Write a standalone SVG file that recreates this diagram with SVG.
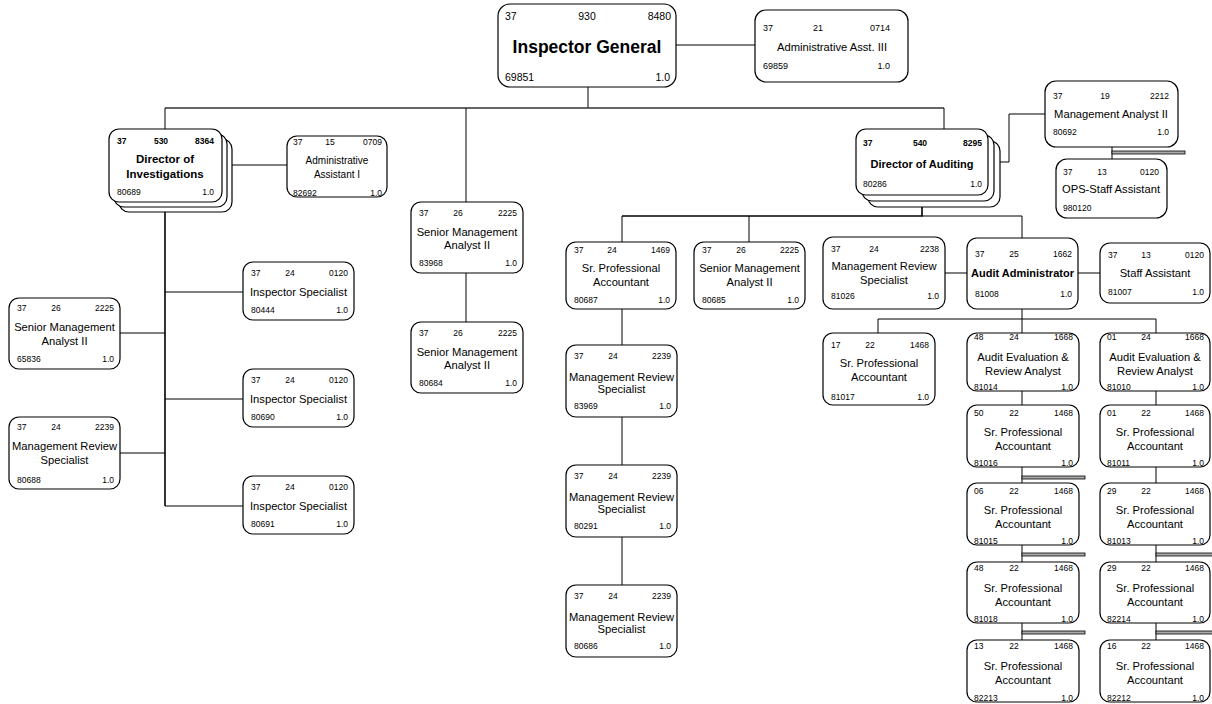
<svg xmlns="http://www.w3.org/2000/svg" width="1212" height="704" viewBox="0 0 1212 704">
<style>
text{font-family:"Liberation Sans",Arial,sans-serif;fill:#000}
.b{fill:#fff;stroke:#000;stroke-width:1.2}
.n{font-size:8.5px}
.nm{font-size:8.5px;text-anchor:middle}
.nr{font-size:8.5px;text-anchor:end}
.t{font-size:11.2px;text-anchor:middle}
.bd{font-weight:bold}
.c{stroke:#000;stroke-width:1;fill:none}
.bar{fill:#aaa;stroke:#000;stroke-width:0.8}
</style>
<g id="connectors">
<path class="c" d="M676 45H755"/>
<path class="c" d="M588 87V108"/>
<path class="c" style="stroke:#333;stroke-width:1.6" d="M165 108H944"/>
<path class="c" d="M165 108V129M466 108V202M944 108V129"/>
<path class="c" d="M232 165H287"/>
<path class="c" style="stroke-width:1.6" d="M165 212V506"/>
<path class="c" d="M165 292H243M165 399H243M165 506H243M120 333H165M120 453H165"/>
<path class="c" d="M466 273V322"/>
<path class="c" d="M1000 162H1009V114H1045"/>
<path class="c" d="M1112 147V159"/>
<rect class="bar" x="1112" y="151" width="73" height="3"/>
<path class="c" style="stroke-width:1.6" d="M922 207V216H622"/>
<path class="c" d="M922 216H1022"/>
<path class="c" d="M622 216V242M749 216V242M1022 216V238"/>
<path class="c" d="M622 309V345M622 417V465M622 537V585"/>
<path class="c" d="M945 273H967M1078 273H1100"/>
<path class="c" d="M1022 309V333M878 319H1156M878 319V333M1156 319V333"/>
<path class="c" d="M1022 391V405M1022 467V483M1022 545V562M1022 623V640"/>
<path class="c" d="M1156 391V405M1156 467V483M1156 545V562M1156 623V640"/>
<rect class="bar" x="1022" y="476" width="63" height="3"/>
<rect class="bar" x="1022" y="553" width="63" height="3"/>
<rect class="bar" x="1022" y="631" width="63" height="3"/>
<rect class="bar" x="1156" y="553" width="57" height="3"/>
<rect class="bar" x="1156" y="631" width="57" height="3"/>
</g>
<g id="ig">
<rect class="b" x="498" y="4" width="178" height="83" rx="12"/>
<text x="505" y="20" style="font-size:10.5px">37</text>
<text x="587" y="20" style="font-size:10.5px;text-anchor:middle">930</text>
<text x="671" y="20" style="font-size:10.5px;text-anchor:end">8480</text>
<text x="587" y="53" class="bd" style="font-size:17.5px;text-anchor:middle">Inspector General</text>
<text x="505" y="81" style="font-size:10.5px">69851</text>
<text x="670" y="81" style="font-size:10.5px;text-anchor:end">1.0</text>
</g>
<g id="aa3">
<rect class="b" x="755" y="10" width="153" height="72" rx="11"/>
<text x="763" y="31" style="font-size:9px">37</text>
<text x="818" y="31" style="font-size:9px;text-anchor:middle">21</text>
<text x="890" y="31" style="font-size:9px;text-anchor:end">0714</text>
<text x="832" y="51" class="t">Administrative Asst. III</text>
<text x="763" y="69" style="font-size:9px">69859</text>
<text x="890" y="69" style="font-size:9px;text-anchor:end">1.0</text>
</g>
<g id="doi">
<rect class="b" x="119" y="139" width="113" height="73" rx="10"/>
<rect class="b" x="114" y="134" width="113" height="73" rx="10"/>
<rect class="b" x="109" y="129" width="113" height="73" rx="10"/>
<text x="117" y="144" class="n bd">37</text>
<text x="161" y="144" class="nm bd">530</text>
<text x="214" y="144" class="nr bd">8364</text>
<text x="165" y="163" class="t bd" style="font-size:11.5px">Director of</text>
<text x="165" y="178" class="t bd" style="font-size:11.5px">Investigations</text>
<text x="117" y="195" class="n">80689</text>
<text x="214" y="195" class="nr">1.0</text>
</g>
<g id="aa1">
<rect class="b" x="287" y="136" width="100" height="61" rx="10"/>
<text x="293" y="145" class="n">37</text>
<text x="330" y="145" class="nm">15</text>
<text x="382" y="145" class="nr">0709</text>
<text x="337" y="164" class="t" style="font-size:10px">Administrative</text>
<text x="337" y="178" class="t" style="font-size:10px">Assistant I</text>
<text x="293" y="196" class="n">82692</text>
<text x="382" y="196" class="nr">1.0</text>
</g>
<g id="sma83968">
<rect class="b" x="411" y="202" width="112" height="71" rx="10"/>
<text x="419" y="216" class="n">37</text><text x="458" y="216" class="nm">26</text><text x="517" y="216" class="nr">2225</text>
<text x="467" y="236" class="t">Senior Management</text><text x="467" y="249" class="t">Analyst II</text>
<text x="419" y="266" class="n">83968</text><text x="517" y="266" class="nr">1.0</text>
</g>
<g id="sma80684">
<rect class="b" x="411" y="322" width="112" height="71" rx="10"/>
<text x="419" y="336" class="n">37</text><text x="458" y="336" class="nm">26</text><text x="517" y="336" class="nr">2225</text>
<text x="467" y="356" class="t">Senior Management</text><text x="467" y="369" class="t">Analyst II</text>
<text x="419" y="386" class="n">80684</text><text x="517" y="386" class="nr">1.0</text>
</g>
<g id="is80444">
<rect class="b" x="243" y="262" width="111" height="58" rx="10"/>
<text x="251" y="276" class="n">37</text><text x="290" y="276" class="nm">24</text><text x="348" y="276" class="nr">0120</text>
<text x="298.5" y="296" class="t">Inspector Specialist</text>
<text x="251" y="313" class="n">80444</text><text x="348" y="313" class="nr">1.0</text>
</g>
<g id="is80690">
<rect class="b" x="243" y="369" width="111" height="58" rx="10"/>
<text x="251" y="383" class="n">37</text><text x="290" y="383" class="nm">24</text><text x="348" y="383" class="nr">0120</text>
<text x="298.5" y="403" class="t">Inspector Specialist</text>
<text x="251" y="420" class="n">80690</text><text x="348" y="420" class="nr">1.0</text>
</g>
<g id="is80691">
<rect class="b" x="243" y="476" width="111" height="58" rx="10"/>
<text x="251" y="490" class="n">37</text><text x="290" y="490" class="nm">24</text><text x="348" y="490" class="nr">0120</text>
<text x="298.5" y="510" class="t">Inspector Specialist</text>
<text x="251" y="527" class="n">80691</text><text x="348" y="527" class="nr">1.0</text>
</g>
<g id="sma65836">
<rect class="b" x="9" y="298" width="111" height="71" rx="10"/>
<text x="17" y="311" class="n">37</text><text x="56" y="311" class="nm">26</text><text x="114" y="311" class="nr">2225</text>
<text x="64.5" y="331" class="t">Senior Management</text><text x="64.5" y="345" class="t">Analyst II</text>
<text x="17" y="362" class="n">65836</text><text x="114" y="362" class="nr">1.0</text>
</g>
<g id="mrs80688">
<rect class="b" x="9" y="417" width="111" height="72" rx="10"/>
<text x="17" y="430" class="n">37</text><text x="56" y="430" class="nm">24</text><text x="114" y="430" class="nr">2239</text>
<text x="64.5" y="450" class="t">Management Review</text><text x="64.5" y="464" class="t">Specialist</text>
<text x="17" y="483" class="n">80688</text><text x="114" y="483" class="nr">1.0</text>
</g>
<g id="doa">
<rect class="b" x="868" y="141" width="132" height="66" rx="10"/>
<rect class="b" x="862" y="135" width="132" height="66" rx="10"/>
<rect class="b" x="856" y="129" width="132" height="66" rx="10"/>
<text x="863" y="146" class="n bd">37</text>
<text x="920" y="146" class="nm bd">540</text>
<text x="982" y="146" class="nr bd">8295</text>
<text x="922" y="168" class="t bd" style="font-size:11px">Director of Auditing</text>
<text x="863" y="187" class="n">80286</text>
<text x="982" y="187" class="nr">1.0</text>
</g>
<g id="ma2">
<rect class="b" x="1045" y="81" width="133" height="66" rx="11"/>
<text x="1053" y="99" class="n">37</text><text x="1105" y="99" class="nm">19</text><text x="1169" y="99" class="nr">2212</text>
<text x="1111" y="118" class="t">Management Analyst II</text>
<text x="1053" y="135" class="n">80692</text><text x="1169" y="135" class="nr">1.0</text>
</g>
<g id="ops">
<rect class="b" x="1056" y="159" width="111" height="59" rx="11"/>
<text x="1063" y="175" class="n">37</text><text x="1102" y="175" class="nm">13</text><text x="1159" y="175" class="nr">0120</text>
<text x="1111" y="193" class="t">OPS-Staff Assistant</text>
<text x="1063" y="211" class="n">980120</text>
</g>
<g id="spa80687">
<rect class="b" x="566" y="242" width="110" height="67" rx="10"/>
<text x="574" y="253" class="n">37</text><text x="612" y="253" class="nm">24</text><text x="670" y="253" class="nr">1469</text>
<text x="621" y="272" class="t">Sr. Professional</text><text x="621" y="286" class="t">Accountant</text>
<text x="574" y="303" class="n">80687</text><text x="670" y="303" class="nr">1.0</text>
</g>
<g id="sma80685">
<rect class="b" x="694" y="242" width="111" height="67" rx="10"/>
<text x="702" y="253" class="n">37</text><text x="741" y="253" class="nm">26</text><text x="799" y="253" class="nr">2225</text>
<text x="749.5" y="272" class="t">Senior Management</text><text x="749.5" y="286" class="t">Analyst II</text>
<text x="702" y="303" class="n">80685</text><text x="799" y="303" class="nr">1.0</text>
</g>
<g id="mrs83969">
<rect class="b" x="566" y="345" width="111" height="72" rx="10"/>
<text x="574" y="359" class="n">37</text><text x="613" y="359" class="nm">24</text><text x="671" y="359" class="nr">2239</text>
<text x="621.5" y="381" class="t">Management Review</text><text x="621.5" y="393" class="t">Specialist</text>
<text x="574" y="409" class="n">83969</text><text x="671" y="409" class="nr">1.0</text>
</g>
<g id="mrs80291">
<rect class="b" x="566" y="465" width="111" height="72" rx="10"/>
<text x="574" y="479" class="n">37</text><text x="613" y="479" class="nm">24</text><text x="671" y="479" class="nr">2239</text>
<text x="621.5" y="501" class="t">Management Review</text><text x="621.5" y="513" class="t">Specialist</text>
<text x="574" y="529" class="n">80291</text><text x="671" y="529" class="nr">1.0</text>
</g>
<g id="mrs80686">
<rect class="b" x="566" y="585" width="111" height="72" rx="10"/>
<text x="574" y="599" class="n">37</text><text x="613" y="599" class="nm">24</text><text x="671" y="599" class="nr">2239</text>
<text x="621.5" y="621" class="t">Management Review</text><text x="621.5" y="633" class="t">Specialist</text>
<text x="574" y="649" class="n">80686</text><text x="671" y="649" class="nr">1.0</text>
</g>
<g id="mrs81026">
<rect class="b" x="823" y="237" width="122" height="72" rx="10"/>
<text x="831" y="252" class="n">37</text><text x="874" y="252" class="nm">24</text><text x="939" y="252" class="nr">2238</text>
<text x="884" y="270" class="t">Management Review</text><text x="884" y="284" class="t">Specialist</text>
<text x="831" y="299" class="n">81026</text><text x="939" y="299" class="nr">1.0</text>
</g>
<g id="aud81008">
<rect class="b" x="967" y="238" width="111" height="71" rx="10"/>
<text x="975" y="257" class="n">37</text><text x="1014" y="257" class="nm">25</text><text x="1072" y="257" class="nr">1662</text>
<text x="1022.5" y="277" class="t bd" style="font-size:11px">Audit Administrator</text>
<text x="975" y="297" class="n">81008</text><text x="1072" y="297" class="nr">1.0</text>
</g>
<g id="sa81007">
<rect class="b" x="1100" y="243" width="110" height="60" rx="10"/>
<text x="1108" y="258" class="n">37</text><text x="1146" y="258" class="nm">13</text><text x="1204" y="258" class="nr">0120</text>
<text x="1155" y="277" class="t">Staff Assistant</text>
<text x="1108" y="295" class="n">81007</text><text x="1204" y="295" class="nr">1.0</text>
</g>
<g id="spa81017">
<rect class="b" x="823" y="333" width="112" height="72" rx="10"/>
<text x="831" y="348" class="n">17</text><text x="870" y="348" class="nm">22</text><text x="929" y="348" class="nr">1468</text>
<text x="879" y="367" class="t">Sr. Professional</text><text x="879" y="381" class="t">Accountant</text>
<text x="831" y="400" class="n">81017</text><text x="929" y="400" class="nr">1.0</text>
</g>
<g id="aer81014">
<rect class="b" x="967" y="333" width="112" height="58" rx="10"/>
<text x="974" y="340" class="n">48</text><text x="1014" y="340" class="nm">24</text><text x="1073" y="340" class="nr">1668</text>
<text x="1023" y="361" class="t">Audit Evaluation &amp;</text><text x="1023" y="375" class="t">Review Analyst</text>
<text x="974" y="390" class="n">81014</text><text x="1073" y="390" class="nr">1.0</text>
</g>
<g id="aer81010">
<rect class="b" x="1100" y="333" width="110" height="58" rx="10"/>
<text x="1107" y="340" class="n">01</text><text x="1146" y="340" class="nm">24</text><text x="1204" y="340" class="nr">1668</text>
<text x="1155" y="361" class="t">Audit Evaluation &amp;</text><text x="1155" y="375" class="t">Review Analyst</text>
<text x="1107" y="390" class="n">81010</text><text x="1204" y="390" class="nr">1.0</text>
</g>
<g id="spa81016">
<rect class="b" x="967" y="405" width="112" height="62" rx="10"/>
<text x="974" y="416" class="n">50</text><text x="1014" y="416" class="nm">22</text><text x="1073" y="416" class="nr">1468</text>
<text x="1023" y="436" class="t">Sr. Professional</text><text x="1023" y="450" class="t">Accountant</text>
<text x="974" y="466" class="n">81016</text><text x="1073" y="466" class="nr">1.0</text>
</g>
<g id="spa81015">
<rect class="b" x="967" y="483" width="112" height="62" rx="10"/>
<text x="974" y="494" class="n">06</text><text x="1014" y="494" class="nm">22</text><text x="1073" y="494" class="nr">1468</text>
<text x="1023" y="514" class="t">Sr. Professional</text><text x="1023" y="528" class="t">Accountant</text>
<text x="974" y="544" class="n">81015</text><text x="1073" y="544" class="nr">1.0</text>
</g>
<g id="spa81018">
<rect class="b" x="967" y="562" width="112" height="61" rx="10"/>
<text x="974" y="571" class="n">48</text><text x="1014" y="571" class="nm">22</text><text x="1073" y="571" class="nr">1468</text>
<text x="1023" y="592" class="t">Sr. Professional</text><text x="1023" y="606" class="t">Accountant</text>
<text x="974" y="622" class="n">81018</text><text x="1073" y="622" class="nr">1.0</text>
</g>
<g id="spa82213">
<rect class="b" x="967" y="640" width="112" height="62" rx="10"/>
<text x="974" y="649" class="n">13</text><text x="1014" y="649" class="nm">22</text><text x="1073" y="649" class="nr">1468</text>
<text x="1023" y="670" class="t">Sr. Professional</text><text x="1023" y="684" class="t">Accountant</text>
<text x="974" y="701" class="n">82213</text><text x="1073" y="701" class="nr">1.0</text>
</g>
<g id="spa81011">
<rect class="b" x="1100" y="405" width="110" height="62" rx="10"/>
<text x="1107" y="416" class="n">01</text><text x="1146" y="416" class="nm">22</text><text x="1204" y="416" class="nr">1468</text>
<text x="1155" y="436" class="t">Sr. Professional</text><text x="1155" y="450" class="t">Accountant</text>
<text x="1107" y="466" class="n">81011</text><text x="1204" y="466" class="nr">1.0</text>
</g>
<g id="spa81013">
<rect class="b" x="1100" y="483" width="110" height="62" rx="10"/>
<text x="1107" y="494" class="n">29</text><text x="1146" y="494" class="nm">22</text><text x="1204" y="494" class="nr">1468</text>
<text x="1155" y="514" class="t">Sr. Professional</text><text x="1155" y="528" class="t">Accountant</text>
<text x="1107" y="544" class="n">81013</text><text x="1204" y="544" class="nr">1.0</text>
</g>
<g id="spa82214">
<rect class="b" x="1100" y="562" width="110" height="61" rx="10"/>
<text x="1107" y="571" class="n">29</text><text x="1146" y="571" class="nm">22</text><text x="1204" y="571" class="nr">1468</text>
<text x="1155" y="592" class="t">Sr. Professional</text><text x="1155" y="606" class="t">Accountant</text>
<text x="1107" y="622" class="n">82214</text><text x="1204" y="622" class="nr">1.0</text>
</g>
<g id="spa82212">
<rect class="b" x="1100" y="640" width="110" height="62" rx="10"/>
<text x="1107" y="649" class="n">16</text><text x="1146" y="649" class="nm">22</text><text x="1204" y="649" class="nr">1468</text>
<text x="1155" y="670" class="t">Sr. Professional</text><text x="1155" y="684" class="t">Accountant</text>
<text x="1107" y="701" class="n">82212</text><text x="1204" y="701" class="nr">1.0</text>
</g>
</svg>
